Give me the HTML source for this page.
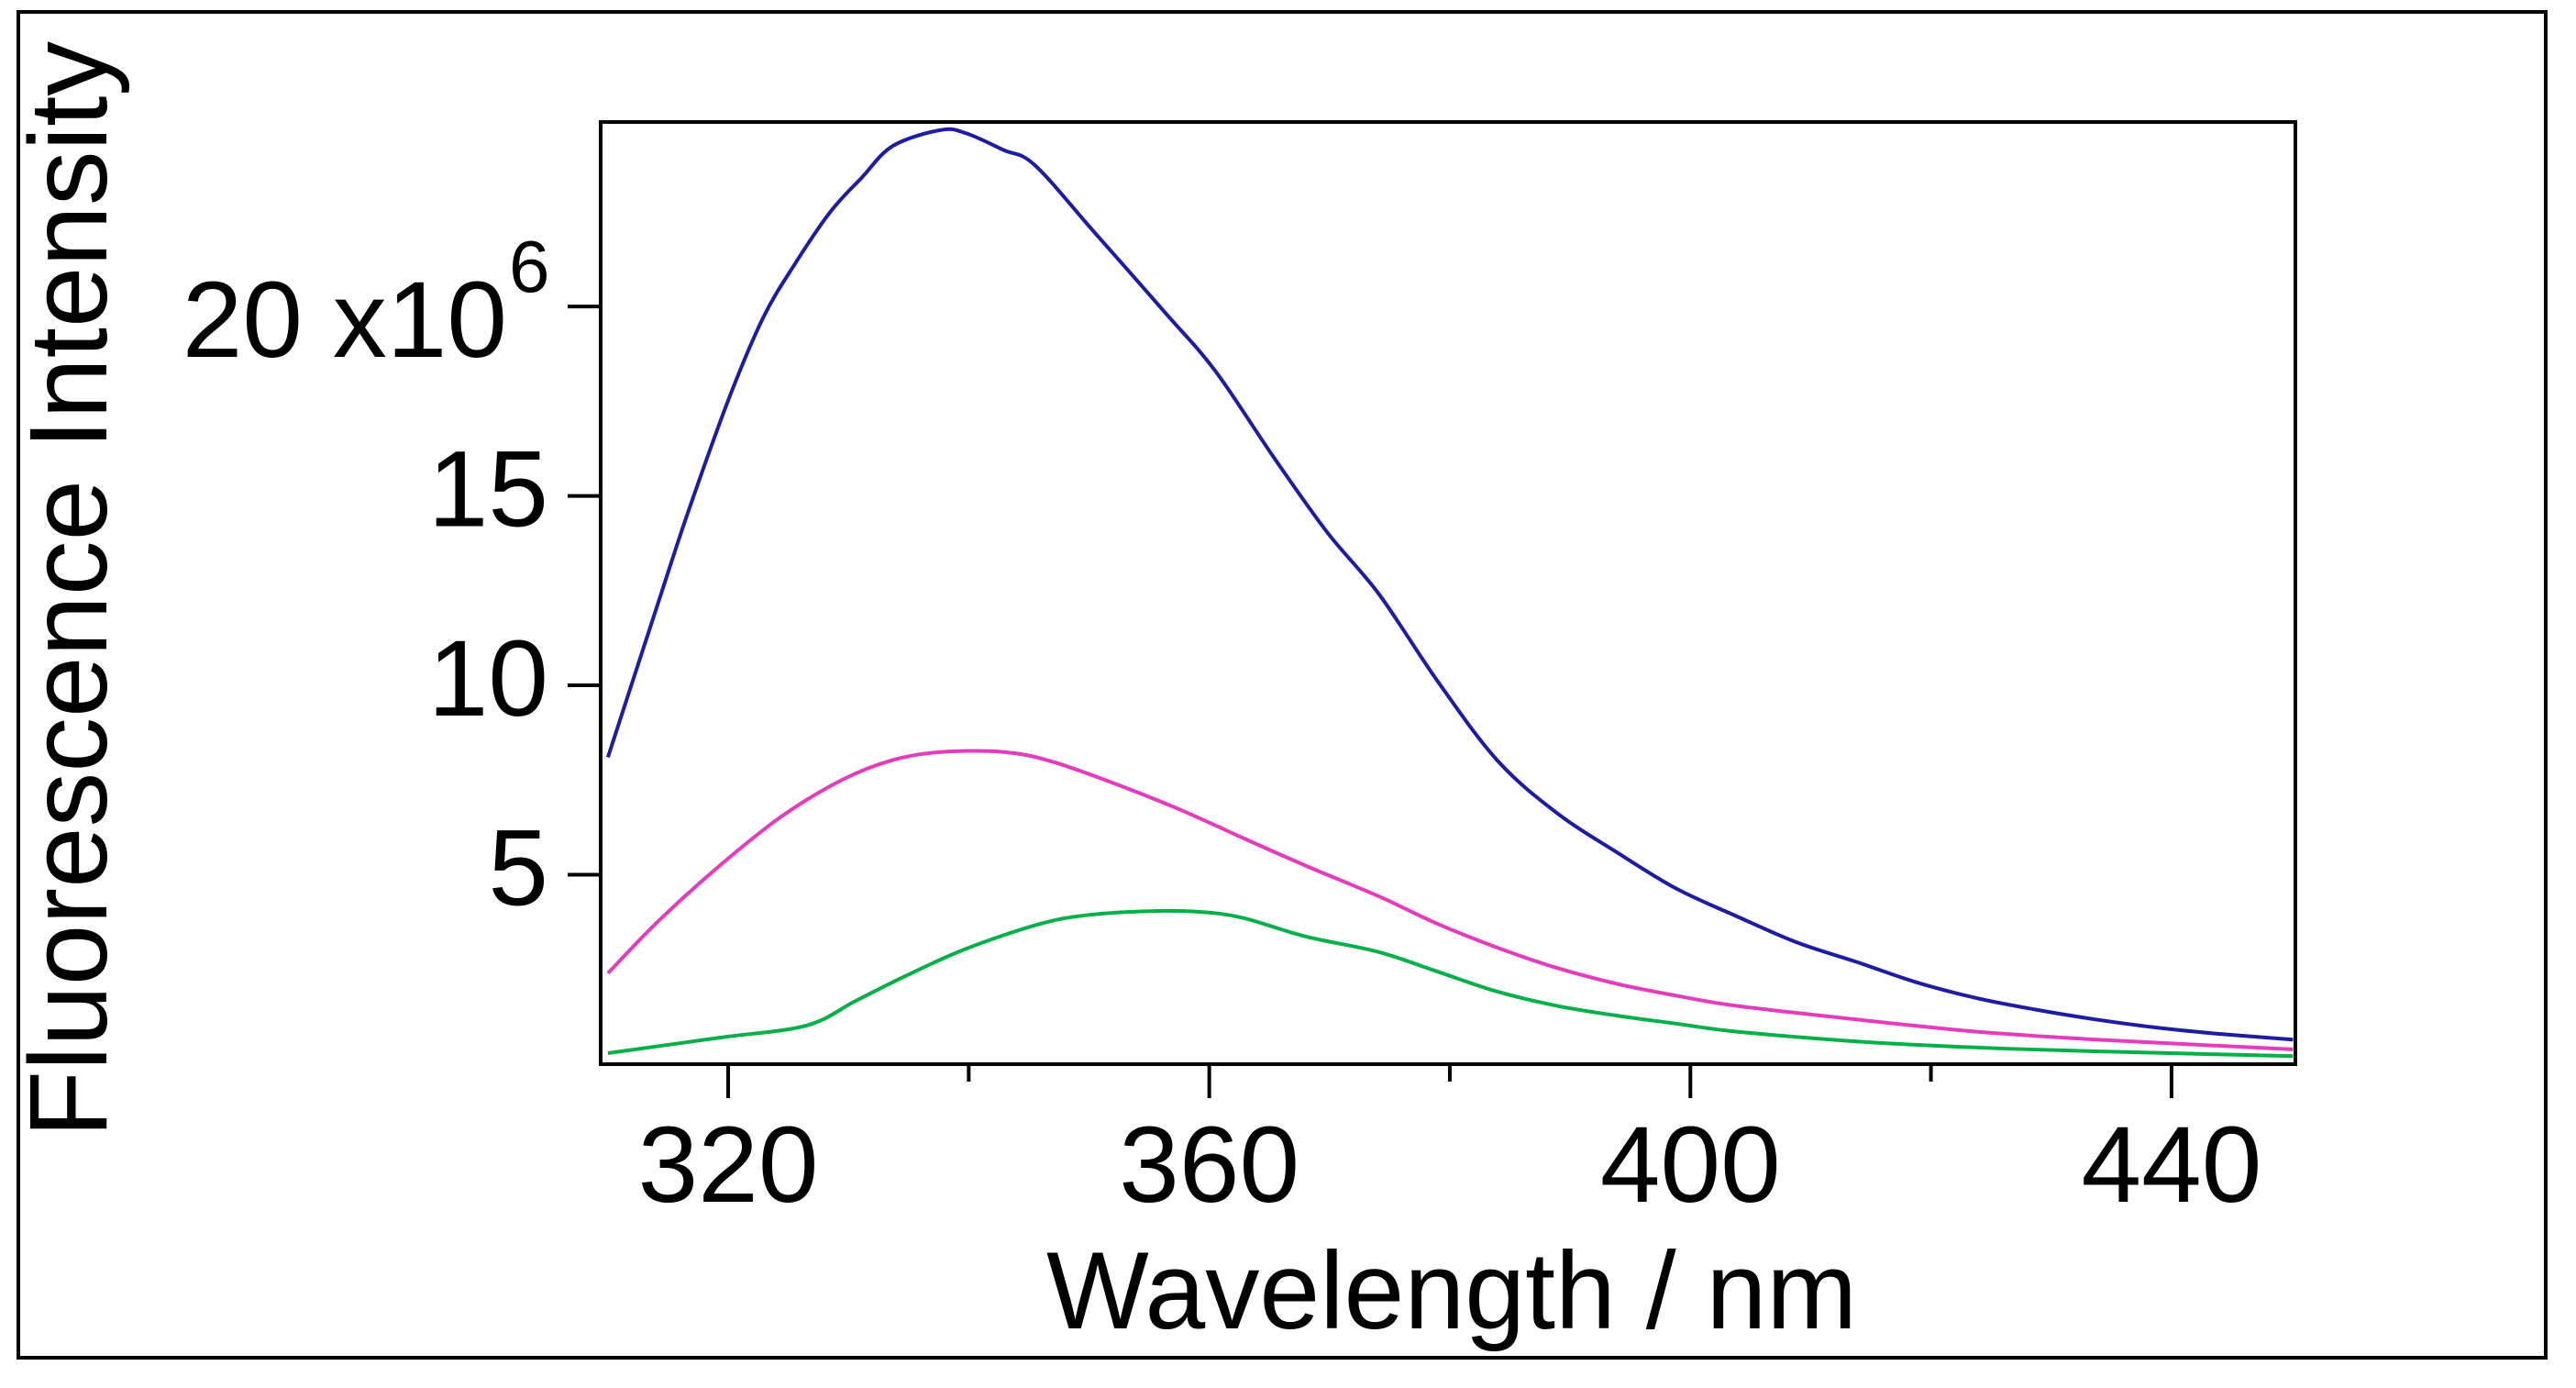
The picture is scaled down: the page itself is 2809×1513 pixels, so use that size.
<!DOCTYPE html>
<html>
<head>
<meta charset="utf-8">
<style>
html,body{margin:0;padding:0;background:#fff;}
svg{display:block;}
text{font-family:"Liberation Sans",Arial,sans-serif;fill:#000;}
</style>
</head>
<body>
<svg id="chart" width="2809" height="1513" viewBox="0 0 2809 1513" xmlns="http://www.w3.org/2000/svg">
  <rect x="20" y="13" width="2756" height="1467" fill="#fff" stroke="#000" stroke-width="4"/>
  <g id="series"></g>
  <rect x="655" y="133" width="1848" height="1027" fill="none" stroke="#000" stroke-width="4"/>
  <g id="axes"></g>
  <text x="0" y="0" font-size="121" transform="translate(116,1240) rotate(-90)" textLength="1195" lengthAdjust="spacingAndGlyphs">Fluorescence Intensity</text>
  <text x="1141" y="1448" font-size="120" textLength="884" lengthAdjust="spacingAndGlyphs">Wavelength / nm</text>
</svg>
<script>
const xMin = 309.4, xMax = 450.3;
const yMin = 0, yMax = 24.87;
const xTicksMajor = [320, 360, 400, 440];
const xTicksMinor = [340, 380, 420];
const xTickLabels = ["320", "360", "400", "440"];
const yTicks = [5, 10, 15, 20];
const yTickLabels = ["5", "10", "15", "20 x10"];

const blueX = [310, 314.2, 316.7, 320.1, 322.9, 325.5, 328.5, 331.1, 333.7, 337.7, 339.8, 342.9, 345.5, 350.5, 356.3, 360.5, 365.4, 369.8, 374.1, 379.0, 384.0, 388.9, 393.9, 398.8, 403.8, 408.8, 413.8, 418.7, 423.7, 428.7, 433.7, 438.6, 443.6, 450.1];
const blueY = [8.1, 12.2, 14.6, 17.6, 19.7, 21.1, 22.5, 23.4, 24.24, 24.66, 24.57, 24.13, 23.73, 21.94, 19.85, 18.3, 16.0, 14.04, 12.41, 10.1, 8.0, 6.63, 5.59, 4.64, 3.91, 3.22, 2.70, 2.17, 1.75, 1.44, 1.18, 0.97, 0.81, 0.65];

const pinkX = [310, 314.2, 319.3, 324.4, 329.5, 333.7, 337.7, 342.9, 346.9, 352.6, 357.7, 362.8, 368.0, 374.1, 379.0, 384.0, 388.9, 393.9, 398.8, 403.8, 413.8, 423.7, 433.7, 450.1];
const pinkY = [2.40, 3.78, 5.24, 6.53, 7.51, 8.03, 8.24, 8.24, 7.99, 7.35, 6.70, 5.97, 5.24, 4.43, 3.70, 3.07, 2.54, 2.12, 1.81, 1.54, 1.18, 0.86, 0.65, 0.39];

const greenX = [310, 319.3, 326.5, 330.6, 334.7, 339.8, 345.9, 350.0, 355.1, 359.2, 362.8, 368.0, 374.1, 379.0, 384.0, 388.9, 393.9, 398.8, 403.8, 413.8, 423.7, 433.7, 450.1];
const greenY = [0.29, 0.70, 1.02, 1.67, 2.32, 3.05, 3.70, 3.94, 4.04, 4.02, 3.86, 3.37, 2.96, 2.44, 1.91, 1.54, 1.28, 1.07, 0.86, 0.60, 0.44, 0.34, 0.21];

const PL = 655, PR = 2503, PT = 133, PB = 1160;
const NS = "http://www.w3.org/2000/svg";
function sx(v){ return PL + (v - xMin) / (xMax - xMin) * (PR - PL); }
function sy(v){ return PB - (v - yMin) / (yMax - yMin) * (PB - PT); }

const seriesG = document.getElementById('series');
const axesG = document.getElementById('axes');

function smoothPath(pts){
  let d = 'M' + pts[0][0].toFixed(1) + ',' + pts[0][1].toFixed(1);
  for (let i = 0; i < pts.length - 1; i++){
    const p0 = pts[Math.max(0, i-1)], p1 = pts[i], p2 = pts[i+1], p3 = pts[Math.min(pts.length-1, i+2)];
    const c1x = p1[0] + (p2[0]-p0[0])/6, c1y = p1[1] + (p2[1]-p0[1])/6;
    const c2x = p2[0] - (p3[0]-p1[0])/6, c2y = p2[1] - (p3[1]-p1[1])/6;
    d += ' C' + c1x.toFixed(1)+','+c1y.toFixed(1)+' '+c2x.toFixed(1)+','+c2y.toFixed(1)+' '+p2[0].toFixed(1)+','+p2[1].toFixed(1);
  }
  return d;
}

function drawLine(xs, ys, color, name){
  const pts = xs.map((x,i)=>[sx(x), sy(ys[i])]);
  const p = document.createElementNS(NS, 'path');
  p.setAttribute('d', smoothPath(pts));
  p.setAttribute('fill','none');
  p.setAttribute('stroke', color);
  p.setAttribute('stroke-width','4');
  p.setAttribute('stroke-linejoin','round');
  
  
  seriesG.appendChild(p);
}
drawLine(blueX, blueY, '#1c1ca4', 'series-blue');
drawLine(pinkX, pinkY, '#e43cbc', 'series-pink');
drawLine(greenX, greenY, '#05b048', 'series-green');

function line(x1,y1,x2,y2){
  const l = document.createElementNS(NS,'line');
  l.setAttribute('x1',x1); l.setAttribute('y1',y1);
  l.setAttribute('x2',x2); l.setAttribute('y2',y2);
  l.setAttribute('stroke','#000'); l.setAttribute('stroke-width','4');
  return l;
}
xTicksMajor.forEach((t,i)=>{
  const l = line(sx(t), PB, sx(t), PB+37);
  
  
  axesG.appendChild(l);
  const tx = document.createElementNS(NS,'text');
  tx.setAttribute('x', sx(t)); tx.setAttribute('y', 1310);
  tx.setAttribute('font-size','118');
  tx.setAttribute('text-anchor','middle');
  tx.textContent = xTickLabels[i];
  
  
  axesG.appendChild(tx);
});
xTicksMinor.forEach(t=>{
  const l = line(sx(t), PB, sx(t), PB+19);
  
  
  axesG.appendChild(l);
});
yTicks.forEach((t,i)=>{
  const l = line(PL-36, sy(t), PL, sy(t));
  
  
  axesG.appendChild(l);
  const tx = document.createElementNS(NS,'text');
  tx.setAttribute('font-size','118');
  if (i === yTicks.length - 1) {
    tx.setAttribute('x', 553); tx.setAttribute('y', sy(t) + 55);
    tx.setAttribute('text-anchor','end');
    tx.textContent = yTickLabels[i];
    const sup = document.createElementNS(NS,'text');
    sup.setAttribute('x', 555); sup.setAttribute('y', sy(t) - 16);
    sup.setAttribute('font-size','80');
    sup.textContent = '6';
    
    
    axesG.appendChild(sup);
  } else {
    tx.setAttribute('x', 598); tx.setAttribute('y', sy(t) + 33);
    tx.setAttribute('text-anchor','end');
    tx.textContent = yTickLabels[i];
  }
  
  
  axesG.appendChild(tx);
});
</script>
</body>
</html>
